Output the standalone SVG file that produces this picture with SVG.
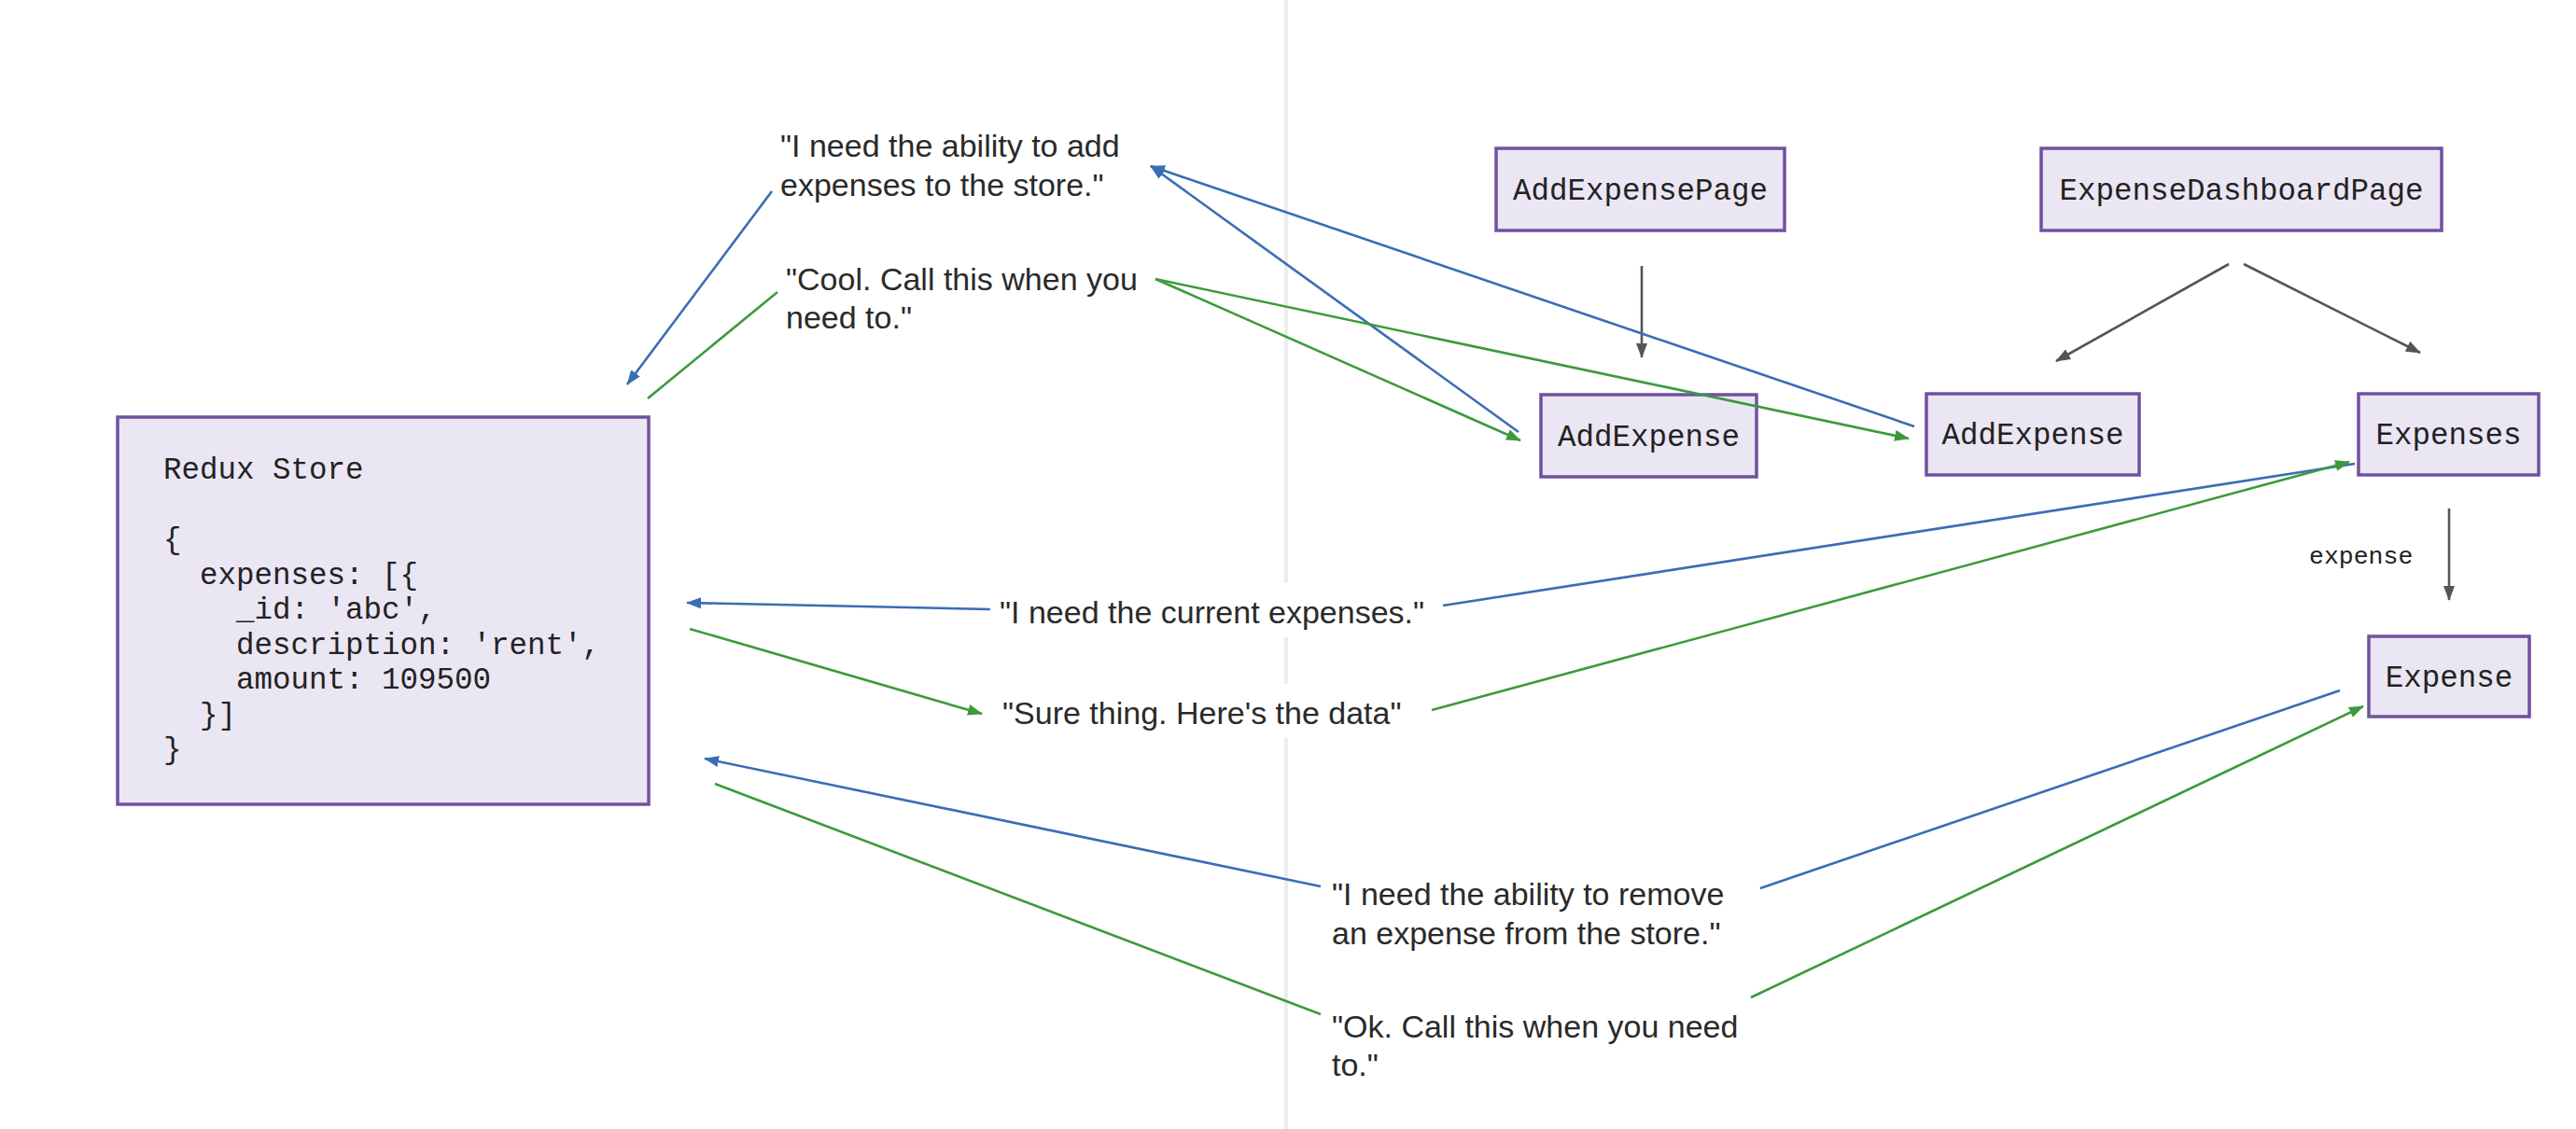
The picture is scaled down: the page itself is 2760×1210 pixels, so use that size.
<svg xmlns="http://www.w3.org/2000/svg" width="2760" height="1210" viewBox="0 0 2760 1210">
<defs>
<style>
.node rect{fill:#ebe6f3;stroke:#70519e;stroke-width:3.5}
.mono{font-family:"Liberation Mono","DejaVu Sans Mono",monospace;font-size:32.5px;fill:#222}
.ntext{text-anchor:middle}
.say{font-family:"Liberation Sans",Arial,sans-serif;font-size:34px;fill:#2a2a2a}
.blue{stroke:#3b6db3;stroke-width:2.6;fill:none}
.green{stroke:#3c9a3c;stroke-width:2.6;fill:none}
.gray{stroke:#555;stroke-width:2.6;fill:none}
.ab{marker-end:url(#mb)}
.ag{marker-end:url(#mg)}
.ay{marker-end:url(#my)}
</style>
<marker id="mb" markerUnits="userSpaceOnUse" markerWidth="16" markerHeight="12" refX="15" refY="6" orient="auto"><path d="M0,0 L16,6 L0,12 z" fill="#3b6db3"/></marker>
<marker id="mg" markerUnits="userSpaceOnUse" markerWidth="16" markerHeight="12" refX="15" refY="6" orient="auto"><path d="M0,0 L16,6 L0,12 z" fill="#3c9a3c"/></marker>
<marker id="my" markerUnits="userSpaceOnUse" markerWidth="16" markerHeight="12" refX="15" refY="6" orient="auto"><path d="M0,0 L16,6 L0,12 z" fill="#555"/></marker>
</defs>
<rect width="2760" height="1210" fill="#ffffff"/>
<path d="M1378,0 V625 M1378,683 V733 M1378,791 V1210" stroke="#ebebeb" stroke-width="3.5" fill="none"/>

<g id="redux-store" class="node">
<rect x="126" y="447" width="569" height="415"/>
<text class="mono" x="175" y="513">Redux Store</text>
<text class="mono" x="175" y="588">{</text>
<text class="mono" x="214" y="625.5">expenses: [{</text>
<text class="mono" x="253" y="663">_id: 'abc',</text>
<text class="mono" x="253" y="700.5">description: 'rent',</text>
<text class="mono" x="253" y="738">amount: 109500</text>
<text class="mono" x="214" y="775.5">}]</text>
<text class="mono" x="175" y="813">}</text>
</g>

<g id="add-expense-page" class="node">
<rect x="1603" y="159" width="309" height="88"/>
<text class="mono ntext" x="1757.5" y="214">AddExpensePage</text>
</g>
<g id="expense-dashboard-page" class="node">
<rect x="2187" y="159" width="429" height="88"/>
<text class="mono ntext" x="2401.5" y="214">ExpenseDashboardPage</text>
</g>
<g id="add-expense-1" class="node">
<rect x="1651" y="423" width="231" height="88"/>
<text class="mono ntext" x="1766.5" y="478">AddExpense</text>
</g>
<g id="add-expense-2" class="node">
<rect x="2064" y="422" width="228" height="87"/>
<text class="mono ntext" x="2178" y="476">AddExpense</text>
</g>
<g id="expenses" class="node">
<rect x="2527" y="422" width="193" height="87"/>
<text class="mono ntext" x="2623.5" y="476">Expenses</text>
</g>
<g id="expense" class="node">
<rect x="2538" y="682" width="172" height="86"/>
<text class="mono ntext" x="2624" y="736">Expense</text>
</g>

<g id="messages">
<text class="say" x="836" y="168">"I need the ability to add</text>
<text class="say" x="836" y="210">expenses to the store."</text>
<text class="say" x="842" y="311">"Cool. Call this when you</text>
<text class="say" x="842" y="352">need to."</text>
<text class="say" x="1071" y="668">"I need the current expenses."</text>
<text class="say" x="1074" y="776">"Sure thing. Here's the data"</text>
<text class="say" x="1427" y="970">"I need the ability to remove</text>
<text class="say" x="1427" y="1012">an expense from the store."</text>
<text class="say" x="1427" y="1112">"Ok. Call this when you need</text>
<text class="say" x="1427" y="1153">to."</text>
</g>

<g id="connectors">
<line class="gray ay" x1="1759" y1="285" x2="1759" y2="383"/>
<line class="gray ay" x1="2388" y1="283" x2="2203" y2="387"/>
<line class="gray ay" x1="2404" y1="283" x2="2593" y2="378"/>
<line class="gray ay" x1="2624" y1="545" x2="2624" y2="643"/>
<text class="mono" style="font-size:26.5px" x="2474" y="604">expense</text>

<line class="blue ab" x1="1627" y1="463" x2="1233" y2="178"/>
<line class="blue ab" x1="2051" y1="457" x2="1233" y2="178"/>
<line class="blue ab" x1="827" y1="205" x2="672" y2="412"/>
<line class="blue" x1="2523" y1="497" x2="1546" y2="649"/>
<line class="blue ab" x1="1061" y1="653" x2="736" y2="646"/>
<line class="blue" x1="2507" y1="740" x2="1886" y2="952"/>
<line class="blue ab" x1="1415" y1="950" x2="755" y2="813"/>

<line class="green" x1="694" y1="427" x2="833" y2="313"/>
<line class="green ag" x1="1238" y1="299" x2="1629" y2="472"/>
<line class="green ag" x1="1238" y1="299" x2="2045" y2="470"/>
<line class="green ag" x1="739" y1="674" x2="1052" y2="765"/>
<line class="green ag" x1="1534" y1="761" x2="2517" y2="495"/>
<line class="green" x1="766" y1="840" x2="1415" y2="1087"/>
<line class="green ag" x1="1876" y1="1069" x2="2532" y2="757"/>
</g>
</svg>
